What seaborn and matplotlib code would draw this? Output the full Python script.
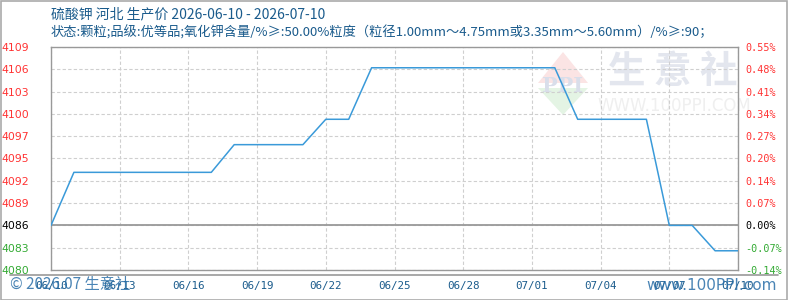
import numpy as np
import pandas as pd
import matplotlib
matplotlib.use('Agg')
import matplotlib.pyplot as plt
import seaborn as sns
from matplotlib.patches import Polygon, Rectangle
from matplotlib.lines import Line2D

# ---------------- data ----------------
title = '硫酸钾 河北 生产价 2026-06-10 - 2026-07-10'
subtitle = '状态:颗粒;品级:优等品;氧化钾含量/%≥:50.00%粒度（粒径1.00mm～4.75mm或3.35mm～5.60mm）/%≥:90；'

day_index = list(range(31))  # 06/10 .. 07/10
prices = [4085.8,
          4092.7, 4092.7, 4092.7, 4092.7, 4092.7, 4092.7, 4092.7,
          4096.3, 4096.3, 4096.3, 4096.3,
          4099.6, 4099.6,
          4106.3, 4106.3, 4106.3, 4106.3, 4106.3, 4106.3, 4106.3, 4106.3, 4106.3,
          4099.6, 4099.6, 4099.6, 4099.6,
          4085.8, 4085.8,
          4082.5, 4082.5]

x_tick_pos = [0, 3, 6, 9, 12, 15, 18, 21, 24, 27, 30]
x_tick_labels = ['06/10', '06/13', '06/16', '06/19', '06/22', '06/25',
                 '06/28', '07/01', '07/04', '07/07', '07/10']

y_ticks = [4080.0, 4082.9, 4085.8, 4088.7, 4091.6, 4094.5,
           4097.4, 4100.3, 4103.2, 4106.1, 4109.0]
y_left_labels = ['4080', '4083', '4086', '4089', '4092', '4095',
                 '4097', '4100', '4103', '4106', '4109']
y_right_labels = ['-0.14%', '-0.07%', '0.00%', '0.07%', '0.14%', '0.20%',
                  '0.27%', '0.34%', '0.41%', '0.48%', '0.55%']
base_value = 4085.8

df = pd.DataFrame({'day': day_index, 'price': prices})

# ---------------- style ----------------
sns.set_theme(style='white')
plt.rcParams['font.family'] = ['Noto Sans CJK SC', 'DejaVu Sans']

W, H = 788, 300
fig = plt.figure(figsize=(W / 100, H / 100), dpi=100)
fig.patch.set_facecolor('white')

L, R, T, B = 51, 738, 47, 270
ax = fig.add_axes([L / W, 1 - B / H, (R - L) / W, (B - T) / H])
ax.set_facecolor('white')

RED = '#ff3333'
GREEN = '#33aa33'
BLUE_TXT = '#1a5b8c'
LINE = '#3a9ad9'
GRID = '#cfcfcf'
FRAME = '#999999'

def fx(px):
    return px / W

def fy(py):
    return 1 - py / H

# watermark (behind data)
ax.add_patch(Polygon([(fx(538), fy(83)), (fx(563), fy(52)), (fx(588), fy(83))],
                     closed=True, transform=fig.transFigure, facecolor='#fbe4e4',
                     edgecolor='none', zorder=0.2))
ax.add_patch(Polygon([(fx(538), fy(88)), (fx(563), fy(115)), (fx(588), fy(88))],
                     closed=True, transform=fig.transFigure, facecolor='#e4f4e4',
                     edgecolor='none', zorder=0.2))
ax.text(fx(563), fy(86), 'PPI', transform=fig.transFigure, ha='center', va='center',
        fontsize=15, fontweight='bold', color='#d9deea', family='DejaVu Serif', zorder=0.3)
ax.text(fx(673), fy(72), '生 意 社', transform=fig.transFigure, ha='center', va='center',
        fontsize=27, fontweight='bold', color='#e3e6ee', zorder=0.3)
ax.text(fx(674), fy(106), 'WWW.100PPI.COM', transform=fig.transFigure, ha='center',
        va='center', fontsize=12, color='#efefef', family='DejaVu Sans', zorder=0.3)

# line
sns.lineplot(data=df, x='day', y='price', ax=ax, color=LINE, linewidth=1.1, zorder=5)
ax.axhline(base_value, color=FRAME, linewidth=1.3, zorder=4)

ax.set_xlim(0, 30)
ax.set_ylim(y_ticks[0], y_ticks[-1])
ax.set_xticks(x_tick_pos)
ax.set_xticklabels(x_tick_labels)
ax.set_yticks(y_ticks)
ax.set_yticklabels(y_left_labels)
ax.set_xlabel('')
ax.set_ylabel('')
ax.grid(True, color=GRID, linestyle=(0, (3, 2)), linewidth=0.8)
ax.set_axisbelow(True)
for s in ax.spines.values():
    s.set_color(FRAME)
    s.set_linewidth(1.0)

ax.tick_params(axis='y', length=0, pad=16, labelsize=7.8)
ax.tick_params(axis='x', length=0, pad=8, labelsize=7.8, labelcolor=BLUE_TXT)
for lab in ax.get_xticklabels():
    lab.set_family('DejaVu Sans Mono')
for lab, v in zip(ax.get_yticklabels(), y_ticks):
    lab.set_family('DejaVu Sans')
    lab.set_color(RED if v > base_value + 0.01 else (GREEN if v < base_value - 0.01 else 'black'))

ax2 = ax.twinx()
ax2.set_ylim(ax.get_ylim())
ax2.set_yticks(y_ticks)
ax2.set_yticklabels(y_right_labels)
ax2.tick_params(axis='y', length=0, pad=5, labelsize=7.3)
for s in ax2.spines.values():
    s.set_visible(False)
for lab, v in zip(ax2.get_yticklabels(), y_ticks):
    lab.set_family('DejaVu Sans Mono')
    lab.set_color(RED if v > base_value + 0.01 else (GREEN if v < base_value - 0.01 else 'black'))
ax2.grid(False)

# titles
fig.text(fx(51), fy(14), title, ha='left', va='center', fontsize=10, color=BLUE_TXT)
fig.text(fx(51), fy(33), subtitle, ha='left', va='center', fontsize=9.5, color=BLUE_TXT)

# separator and frame
fig.add_artist(Line2D([fx(10), fx(778)], [fy(275), fy(275)], color=FRAME, linewidth=1.2))
fig.add_artist(Rectangle((0.5 / W, 0.5 / H), (W - 1.5) / W, (H - 1.5) / H, fill=False,
                         edgecolor='#aaaaaa', linewidth=1.2, transform=fig.transFigure))

# footer
fig.text(fx(10), fy(285), '© 2026.07 生意社', ha='left', va='center', fontsize=11,
         color='#2a6fa8', alpha=0.85)
fig.text(fx(777), fy(285), 'www.100PPI.com', ha='right', va='center', fontsize=11,
         color='#2a6fa8', family='DejaVu Sans', alpha=0.85)

fig.savefig('out.png', dpi=100, facecolor='white')
